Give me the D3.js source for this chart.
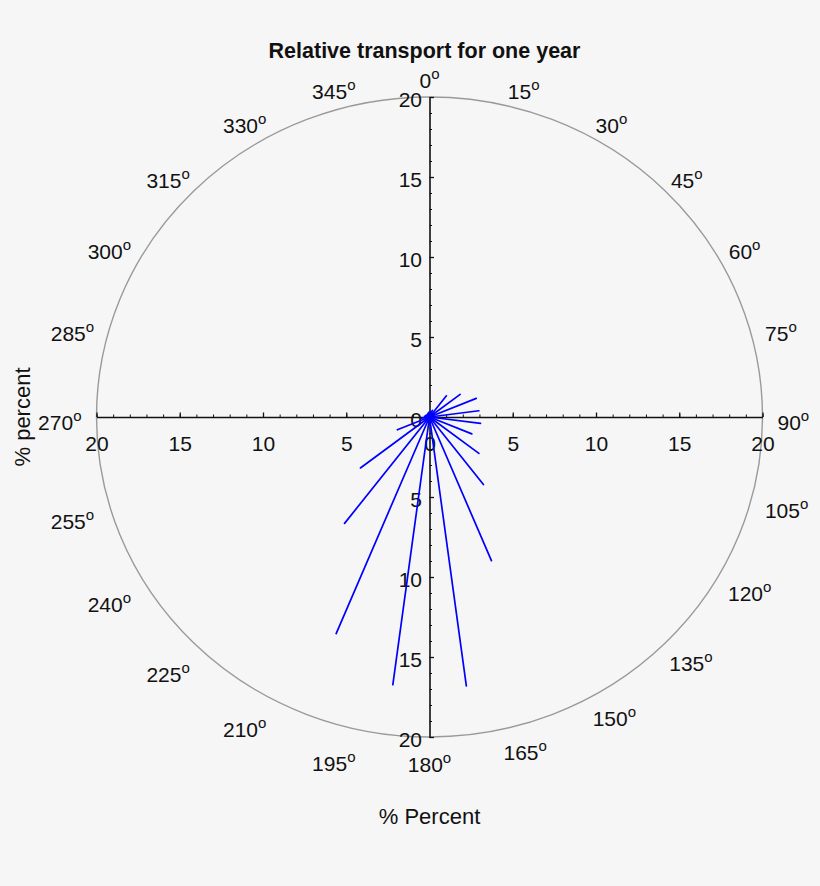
<!DOCTYPE html>
<html>
<head>
<meta charset="utf-8">
<script src="https://cdn.jsdelivr.net/npm/d3@7"></script>
<style>
    body { margin: 0; background: #f6f6f6; }
    svg { display: block; }
    text { font-family: "Liberation Sans", Arial, Helvetica, sans-serif; fill: #111; }
</style>
</head>
<body>
<div id="chart"></div>
<script>
// Bin centres (degrees clockwise from north) and relative transport (%)
const binAngles = [7.5, 22.5, 37.5, 52.5, 67.5, 82.5, 97.5, 112.5,
    127.5, 142.5, 157.5, 172.5, 187.5, 202.5, 217.5, 232.5,
    247.5, 262.5, 277.5, 292.5, 307.5, 322.5, 337.5, 352.5];
const binPercent = [0.35, 0.45, 1.67, 2.32, 3.04, 2.99, 3.09, 2.75,
    3.74, 5.32, 9.72, 16.95, 16.88, 14.65, 8.38, 5.23,
    2.09, 0.5, 0.3, 0.25, 0.2, 0.2, 0.25, 0.3];

const degreeTicks = d3.range(0, 360, 15);
const majorTicks = [-20, -15, -10, -5, 0, 5, 10, 15, 20];
const minorTicks = d3.range(-20, 21, 1);

const titleText = 'Relative transport for one year';
const xLabelText = '% Percent';
const yLabelText = '% percent';

const width = 820,
    height = 886,
    fontSize = 21;

const svg = d3.select('#chart')
    .append('svg')
    .attr('width', width)
    .attr('height', height);

svg.append('rect')
    .attr('width', width)
    .attr('height', height)
    .attr('fill', '#f6f6f6');

const xScale = d3.scaleLinear().domain([-20, 20]).range([96.5, 762.5]);
const yScale = d3.scaleLinear().domain([-20, 20]).range([737, 97]);

const cx = xScale(0),
    cy = yScale(0);

// Outer circle (drawn in data units, so it follows the scales)
svg.append('ellipse')
    .attr('cx', cx)
    .attr('cy', cy)
    .attr('rx', xScale(20) - cx)
    .attr('ry', cy - yScale(20))
    .attr('fill', 'none')
    .attr('stroke', '#9a9a9a')
    .attr('stroke-width', 1.4);

// Horizontal axis: minor then major ticks pointing up, labels below
svg.append('g')
    .attr('transform', 'translate(0,' + cy + ')')
    .call(d3.axisBottom(xScale).tickValues(minorTicks).tickSizeInner(-2.5).tickSizeOuter(0).tickFormat(''))
    .call(g => g.select('.domain').remove());

const xAxis = svg.append('g')
    .attr('transform', 'translate(0,' + cy + ')')
    .call(d3.axisBottom(xScale)
        .tickValues(majorTicks)
        .tickSizeInner(-4.5)
        .tickSizeOuter(0)
        .tickPadding(19)
        .tickFormat(d => Math.abs(d)));

// Vertical axis: ticks pointing right, labels left
svg.append('g')
    .attr('transform', 'translate(' + cx + ',0)')
    .call(d3.axisLeft(yScale).tickValues(minorTicks).tickSizeInner(-2.5).tickSizeOuter(0).tickFormat(''))
    .call(g => g.select('.domain').remove());

const yAxis = svg.append('g')
    .attr('transform', 'translate(' + cx + ',0)')
    .call(d3.axisLeft(yScale)
        .tickValues(majorTicks)
        .tickSizeInner(-4.5)
        .tickSizeOuter(0)
        .tickPadding(7.5)
        .tickFormat(d => Math.abs(d)));

[xAxis, yAxis].forEach(ax => {
    ax.select('.domain').attr('stroke', '#111').attr('stroke-width', 1.6);
    ax.selectAll('.tick line').attr('stroke', '#111').attr('stroke-width', 1.3);
    ax.selectAll('.tick text')
        .attr('font-size', fontSize)
        .attr('font-family', '"Liberation Sans", Arial, sans-serif')
        .attr('fill', '#111');
});
yAxis.selectAll('.tick text').attr('dy', '0.44em');
svg.selectAll('.tick line').attr('stroke', '#111');

// Transport rays
const rays = binAngles.map((a, i) => ({ angle: a, value: binPercent[i] }));

svg.append('g')
    .selectAll('line')
    .data(rays)
    .enter()
    .append('line')
    .attr('x1', xScale(0))
    .attr('y1', yScale(0))
    .attr('x2', d => xScale(d.value * Math.sin(d.angle * Math.PI / 180)))
    .attr('y2', d => yScale(d.value * Math.cos(d.angle * Math.PI / 180)))
    .attr('stroke', '#0000ff')
    .attr('stroke-width', 1.7)
    .attr('stroke-linecap', 'round');

// Compass labels around the circle
const labelRx = 348,
    labelRy = 335;

const labels = svg.append('g')
    .selectAll('text')
    .data(degreeTicks)
    .enter()
    .append('text')
    .attr('font-size', fontSize);

labels.append('tspan').text(d => d);
labels.append('tspan')
    .attr('font-size', 15)
    .attr('dy', -9)
    .text('o');

labels.each(function(d) {
    const t = d * Math.PI / 180,
        s = Math.sin(t),
        c = Math.cos(t),
        w = this.getComputedTextLength(),
        px = cx + labelRx * s,
        py = cy - labelRy * c;
    // lower-left labels sit a little lower in the original
    const extra = (d > 180 && d < 270) ? 11 : 0;
    d3.select(this)
        .attr('x', px - w * (1 - s) / 2)
        .attr('y', py - 7 * c + 5 + 7.5 + extra);
});

// Title and axis titles
svg.append('text')
    .attr('x', 424.5)
    .attr('y', 58)
    .attr('text-anchor', 'middle')
    .attr('font-size', 21.5)
    .attr('font-weight', 'bold')
    .text(titleText);

svg.append('text')
    .attr('x', cx)
    .attr('y', 824)
    .attr('text-anchor', 'middle')
    .attr('font-size', 22)
    .text(xLabelText);

svg.append('text')
    .attr('transform', 'translate(30,' + 417 + ') rotate(-90)')
    .attr('text-anchor', 'middle')
    .attr('font-size', 22)
    .text(yLabelText);
</script>
</body>
</html>
